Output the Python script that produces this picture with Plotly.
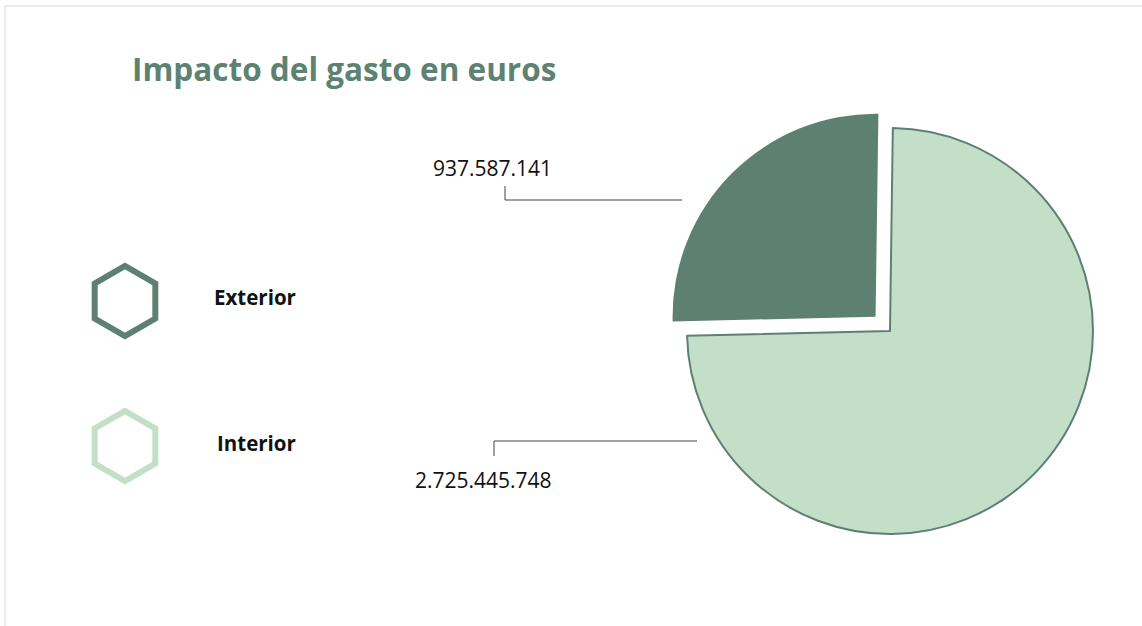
import plotly.graph_objects as go

# ---- data ----
categories = ["Exterior", "Interior"]
values = [937587141, 2725445748]
colors = ["#5E8073", "#C3DFC7"]
title_text = "Impacto del gasto en euros"

W, H = 1142, 626

def fmt(v):
    return f"{v:,}".replace(",", ".")

fig = go.Figure()

# pie geometry (pixels)
cx, cy, r, pull = 890, 331, 203, 0.1
half = r * (1 + pull)
# first slice (Exterior) ends at 12 o'clock, sitting in the upper-left quadrant
start_rot = -360.0 * values[0] / sum(values) + 0.8
fig.add_trace(go.Pie(
    labels=categories, values=values, sort=False, direction="clockwise",
    rotation=start_rot, pull=[pull, 0],
    marker=dict(colors=colors, line=dict(color=["rgba(0,0,0,0)", "#5E8073"], width=2)),
    textinfo="none", hoverinfo="label+value", showlegend=False,
    domain=dict(x=[(cx - half) / W, (cx + half) / W], y=[1 - (cy + half) / H, 1 - (cy - half) / H]),
))

# legend hexagons on a hidden pixel-scaled axis
leg_y = [301, 446]
fig.add_trace(go.Scatter(
    x=[125, 125], y=leg_y, mode="markers", hoverinfo="skip", showlegend=False,
    marker=dict(symbol="hexagon-open", size=70, color=colors, line=dict(width=6, color=colors)),
))

annotations = []
label_x = [255, 256]
for cat, y, lx in zip(categories, [297, 443], label_x):
    annotations.append(dict(x=lx, y=y, xref="x", yref="y", text=f"<b>{cat}</b>", showarrow=False,
                            font=dict(family="Open Sans", size=20.5, color="#111111")))

# value labels + leader lines
val_pos = [(492, 168), (483, 480)]
leaders = [[(505, 186), (505, 200), (682, 200)], [(494, 456), (494, 441), (697, 441)]]
shapes = []
for v, (px, py), pts in zip(values, val_pos, leaders):
    annotations.append(dict(x=px, y=py, xref="x", yref="y", text=fmt(v), showarrow=False,
                            font=dict(family="Open Sans", size=21, color="#111111")))
    path = "M" + " L".join(f"{a},{b}" for a, b in pts)
    shapes.append(dict(type="path", path=path, xref="x", yref="y", line=dict(color="#444444", width=1)))

# card border
shapes.append(dict(type="rect", x0=5, y0=6, x1=W + 20, y1=H + 20, xref="x", yref="y",
                   line=dict(color="#EBEBEB", width=2), layer="below"))

annotations.append(dict(x=130, y=68, xref="x", yref="y", xanchor="left", text=f"<b>{title_text}</b>",
                        showarrow=False, font=dict(family="Open Sans", size=31.5, color="#5E8272")))

fig.update_layout(
    width=W, height=H, margin=dict(l=0, r=0, t=0, b=0),
    paper_bgcolor="white", plot_bgcolor="white",
    xaxis=dict(range=[0, W], visible=False, fixedrange=True),
    yaxis=dict(range=[H, 0], visible=False, fixedrange=True),
    annotations=annotations, shapes=shapes,
)

fig.write_html("out.html", config={"displayModeBar": False},
               post_script="document.body.style.margin='0px';")
